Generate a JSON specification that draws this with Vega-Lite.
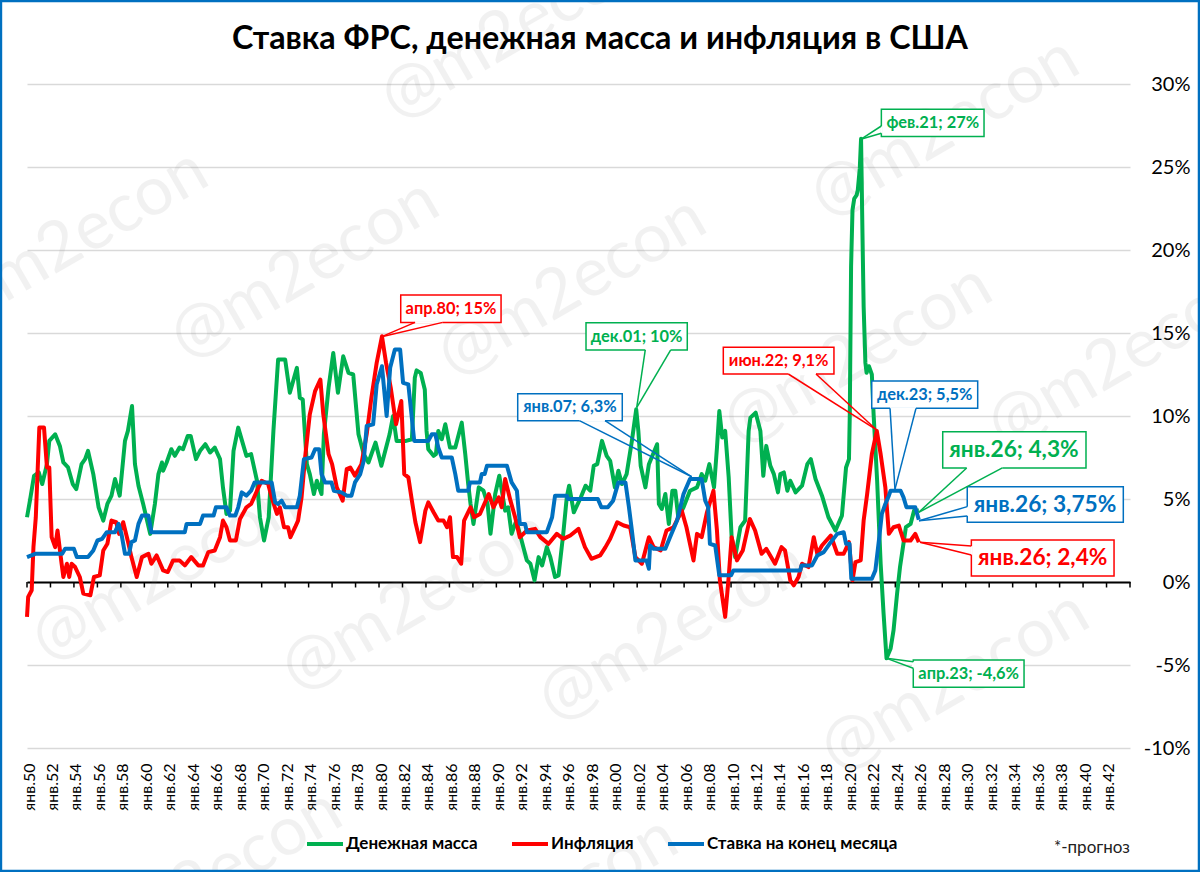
{
  "$schema": "https://vega.github.io/schema/vega-lite/v6.json",
  "autosize": {"type": "none"},
  "padding": {"left": 27, "top": 84, "right": 70, "bottom": 124},
  "width": 1103,
  "height": 664,
  "background": "white",
  "config": {
    "font": "Lato",
    "view": {"stroke": null},
    "axis": {"labelOverlap": false}
  },
  "datasets": {
    "money": [
      {"t":1950.0,"v":3.9},{"t":1950.25,"v":4.9},{"t":1950.6,"v":6.4},{"t":1951.0,"v":6.6},{"t":1951.3,"v":5.9},{"t":1951.7,"v":7.1},{"t":1951.9,"v":8.5},{"t":1952.4,"v":8.9},{"t":1952.8,"v":8.2},{"t":1953.1,"v":7.2},{"t":1953.5,"v":6.9},{"t":1953.9,"v":5.9},{"t":1954.2,"v":5.6},{"t":1954.65,"v":7.1},{"t":1954.95,"v":7.4},{"t":1955.2,"v":7.9},{"t":1955.65,"v":6.5},{"t":1956.1,"v":4.5},{"t":1956.5,"v":3.7},{"t":1956.85,"v":4.7},{"t":1957.2,"v":5.2},{"t":1957.5,"v":6.2},{"t":1957.9,"v":5.2},{"t":1958.35,"v":8.5},{"t":1958.6,"v":9.1},{"t":1958.95,"v":10.6},{"t":1959.2,"v":7.1},{"t":1959.5,"v":5.8},{"t":1959.9,"v":4.7},{"t":1960.5,"v":2.9},{"t":1960.9,"v":4.7},{"t":1961.2,"v":6.5},{"t":1961.5,"v":7.2},{"t":1961.6,"v":6.7},{"t":1961.9,"v":7.2},{"t":1962.3,"v":8.0},{"t":1962.6,"v":7.6},{"t":1963.0,"v":8.1},{"t":1963.3,"v":8.0},{"t":1963.7,"v":8.8},{"t":1963.95,"v":8.8},{"t":1964.4,"v":7.4},{"t":1964.75,"v":7.9},{"t":1965.2,"v":8.3},{"t":1965.6,"v":7.8},{"t":1966.0,"v":8.1},{"t":1966.45,"v":7.4},{"t":1966.7,"v":5.7},{"t":1967.0,"v":4.1},{"t":1967.3,"v":4.3},{"t":1967.6,"v":7.9},{"t":1968.0,"v":9.3},{"t":1968.45,"v":8.2},{"t":1968.7,"v":7.6},{"t":1969.1,"v":7.7},{"t":1969.6,"v":6.1},{"t":1969.85,"v":3.9},{"t":1970.2,"v":2.5},{"t":1970.6,"v":3.9},{"t":1971.0,"v":9.1},{"t":1971.4,"v":13.4},{"t":1972.0,"v":13.4},{"t":1972.4,"v":11.4},{"t":1973.0,"v":12.9},{"t":1973.25,"v":11.1},{"t":1973.5,"v":11.0},{"t":1973.85,"v":7.1},{"t":1974.1,"v":6.5},{"t":1974.45,"v":5.3},{"t":1974.7,"v":6.1},{"t":1975.1,"v":5.3},{"t":1975.3,"v":8.9},{"t":1975.7,"v":11.7},{"t":1976.1,"v":13.8},{"t":1976.5,"v":11.4},{"t":1976.95,"v":13.6},{"t":1977.4,"v":12.6},{"t":1977.8,"v":12.5},{"t":1978.25,"v":8.9},{"t":1978.7,"v":7.7},{"t":1979.1,"v":7.2},{"t":1979.7,"v":8.4},{"t":1980.2,"v":7.0},{"t":1980.9,"v":8.9},{"t":1981.2,"v":10.0},{"t":1981.5,"v":8.5},{"t":1982.3,"v":8.5},{"t":1982.8,"v":8.6},{"t":1983.05,"v":12.3},{"t":1983.2,"v":12.75},{"t":1983.55,"v":12.6},{"t":1983.9,"v":11.6},{"t":1984.05,"v":9.1},{"t":1984.2,"v":8.0},{"t":1984.65,"v":7.6},{"t":1984.85,"v":7.7},{"t":1985.05,"v":9.1},{"t":1985.35,"v":8.6},{"t":1985.65,"v":9.5},{"t":1986.05,"v":8.1},{"t":1986.5,"v":8.1},{"t":1987.05,"v":9.6},{"t":1987.35,"v":7.7},{"t":1987.6,"v":5.9},{"t":1987.8,"v":4.7},{"t":1988.05,"v":3.5},{"t":1988.5,"v":5.7},{"t":1988.9,"v":5.5},{"t":1989.25,"v":4.7},{"t":1989.5,"v":2.9},{"t":1989.9,"v":5.3},{"t":1990.25,"v":6.4},{"t":1990.75,"v":4.3},{"t":1991.0,"v":4.5},{"t":1991.3,"v":2.9},{"t":1991.7,"v":3.7},{"t":1992.6,"v":1.3},{"t":1992.9,"v":1.1},{"t":1993.25,"v":0.1},{"t":1993.6,"v":1.5},{"t":1993.9,"v":1.0},{"t":1994.3,"v":2.1},{"t":1994.6,"v":1.5},{"t":1995.0,"v":0.3},{"t":1995.3,"v":0.4},{"t":1995.7,"v":2.9},{"t":1996.0,"v":5.1},{"t":1996.2,"v":5.8},{"t":1996.6,"v":4.2},{"t":1997.2,"v":5.1},{"t":1997.6,"v":5.8},{"t":1998.0,"v":5.5},{"t":1998.3,"v":7.0},{"t":1998.6,"v":7.1},{"t":1999.0,"v":8.5},{"t":1999.4,"v":7.6},{"t":1999.7,"v":7.3},{"t":2000.1,"v":5.7},{"t":2000.4,"v":6.7},{"t":2000.7,"v":5.9},{"t":2001.1,"v":6.5},{"t":2001.55,"v":8.5},{"t":2001.92,"v":10.4},{"t":2002.1,"v":9.1},{"t":2002.3,"v":7.0},{"t":2002.7,"v":5.7},{"t":2003.0,"v":7.1},{"t":2003.7,"v":8.3},{"t":2003.85,"v":4.7},{"t":2004.1,"v":4.4},{"t":2004.4,"v":5.3},{"t":2004.7,"v":3.5},{"t":2005.0,"v":5.5},{"t":2005.25,"v":5.5},{"t":2005.5,"v":3.9},{"t":2005.95,"v":4.5},{"t":2006.5,"v":5.5},{"t":2007.1,"v":5.7},{"t":2007.5,"v":6.5},{"t":2007.8,"v":6.1},{"t":2008.15,"v":7.1},{"t":2008.55,"v":5.7},{"t":2008.8,"v":8.1},{"t":2009.0,"v":10.3},{"t":2009.25,"v":8.7},{"t":2009.5,"v":9.1},{"t":2009.8,"v":6.3},{"t":2010.05,"v":2.7},{"t":2010.35,"v":1.5},{"t":2010.8,"v":3.3},{"t":2011.2,"v":3.7},{"t":2011.5,"v":9.1},{"t":2011.65,"v":9.9},{"t":2012.1,"v":10.2},{"t":2012.5,"v":9.1},{"t":2012.75,"v":6.4},{"t":2013.0,"v":8.2},{"t":2013.35,"v":7.0},{"t":2013.65,"v":6.5},{"t":2014.0,"v":5.4},{"t":2014.2,"v":6.5},{"t":2014.5,"v":6.6},{"t":2014.8,"v":5.5},{"t":2015.05,"v":6.1},{"t":2015.5,"v":5.4},{"t":2016.05,"v":5.8},{"t":2016.5,"v":7.1},{"t":2016.8,"v":7.4},{"t":2017.2,"v":6.2},{"t":2017.75,"v":5.2},{"t":2018.3,"v":3.9},{"t":2018.9,"v":3.1},{"t":2019.45,"v":4.0},{"t":2019.8,"v":6.9},{"t":2020.05,"v":7.4},{"t":2020.12,"v":10.1},{"t":2020.23,"v":19.0},{"t":2020.35,"v":22.4},{"t":2020.5,"v":23.1},{"t":2020.7,"v":23.3},{"t":2020.8,"v":23.6},{"t":2020.97,"v":24.9},{"t":2021.08,"v":26.7},{"t":2021.2,"v":21.0},{"t":2021.3,"v":16.6},{"t":2021.45,"v":13.2},{"t":2021.55,"v":12.6},{"t":2021.75,"v":13.0},{"t":2022.0,"v":12.5},{"t":2022.15,"v":10.1},{"t":2022.45,"v":6.1},{"t":2022.75,"v":1.1},{"t":2023.0,"v":-1.9},{"t":2023.25,"v":-4.6},{"t":2023.6,"v":-4.0},{"t":2023.85,"v":-2.9},{"t":2024.15,"v":-0.7},{"t":2024.4,"v":0.9},{"t":2024.65,"v":2.1},{"t":2024.9,"v":3.3},{"t":2025.3,"v":3.5},{"t":2025.6,"v":4.3},{"t":2026.0,"v":4.3}
    ],
    "inflation": [
      {"t":1950.0,"v":-2.1},{"t":1950.1,"v":-0.9},{"t":1950.4,"v":-0.5},{"t":1950.55,"v":2.1},{"t":1950.75,"v":3.9},{"t":1951.05,"v":9.3},{"t":1951.45,"v":9.3},{"t":1951.7,"v":6.9},{"t":1951.9,"v":6.9},{"t":1952.1,"v":2.7},{"t":1952.4,"v":2.1},{"t":1952.6,"v":3.1},{"t":1952.95,"v":1.1},{"t":1953.1,"v":0.3},{"t":1953.4,"v":1.1},{"t":1953.6,"v":0.3},{"t":1953.8,"v":1.1},{"t":1954.1,"v":0.9},{"t":1954.5,"v":0.3},{"t":1954.8,"v":-0.7},{"t":1955.4,"v":-0.8},{"t":1955.7,"v":0.3},{"t":1956.2,"v":0.4},{"t":1956.5,"v":1.9},{"t":1956.85,"v":2.3},{"t":1957.2,"v":3.7},{"t":1957.6,"v":3.6},{"t":1957.85,"v":2.9},{"t":1958.2,"v":3.6},{"t":1958.65,"v":2.3},{"t":1958.9,"v":1.5},{"t":1959.35,"v":0.3},{"t":1959.8,"v":1.5},{"t":1960.35,"v":1.7},{"t":1960.6,"v":1.1},{"t":1961.05,"v":1.6},{"t":1961.6,"v":0.7},{"t":1962.0,"v":0.6},{"t":1962.45,"v":1.3},{"t":1963.0,"v":1.3},{"t":1963.45,"v":1.0},{"t":1964.0,"v":1.5},{"t":1964.6,"v":1.0},{"t":1965.0,"v":1.0},{"t":1965.45,"v":1.8},{"t":1966.0,"v":1.9},{"t":1966.45,"v":2.7},{"t":1966.7,"v":3.7},{"t":1967.0,"v":3.3},{"t":1967.3,"v":2.5},{"t":1967.8,"v":2.5},{"t":1968.15,"v":3.8},{"t":1968.7,"v":4.5},{"t":1969.1,"v":4.7},{"t":1969.6,"v":5.5},{"t":1970.0,"v":6.1},{"t":1970.55,"v":5.9},{"t":1970.85,"v":5.1},{"t":1971.3,"v":4.1},{"t":1971.55,"v":4.5},{"t":1971.9,"v":3.3},{"t":1972.25,"v":3.3},{"t":1972.45,"v":2.7},{"t":1972.85,"v":3.3},{"t":1973.1,"v":3.7},{"t":1973.4,"v":5.1},{"t":1973.7,"v":7.5},{"t":1974.1,"v":10.1},{"t":1974.55,"v":11.5},{"t":1975.0,"v":12.2},{"t":1975.25,"v":10.1},{"t":1975.7,"v":7.7},{"t":1976.0,"v":7.1},{"t":1976.4,"v":5.7},{"t":1976.9,"v":4.9},{"t":1977.25,"v":6.8},{"t":1977.55,"v":6.9},{"t":1977.95,"v":6.4},{"t":1978.5,"v":7.1},{"t":1978.95,"v":8.9},{"t":1979.35,"v":11.1},{"t":1979.8,"v":13.2},{"t":1980.25,"v":14.8},{"t":1980.6,"v":13.2},{"t":1981.0,"v":11.7},{"t":1981.45,"v":9.5},{"t":1981.9,"v":10.9},{"t":1982.15,"v":6.5},{"t":1982.5,"v":6.3},{"t":1982.8,"v":4.9},{"t":1983.1,"v":3.6},{"t":1983.5,"v":2.4},{"t":1983.95,"v":4.3},{"t":1984.2,"v":4.8},{"t":1984.65,"v":4.2},{"t":1985.05,"v":3.7},{"t":1985.5,"v":3.7},{"t":1985.8,"v":3.3},{"t":1986.05,"v":3.9},{"t":1986.3,"v":1.5},{"t":1986.65,"v":1.5},{"t":1987.0,"v":1.1},{"t":1987.25,"v":3.7},{"t":1987.8,"v":4.5},{"t":1988.1,"v":3.9},{"t":1988.6,"v":4.1},{"t":1989.35,"v":5.3},{"t":1989.75,"v":4.5},{"t":1990.2,"v":5.1},{"t":1990.45,"v":4.5},{"t":1990.75,"v":6.2},{"t":1991.2,"v":4.9},{"t":1991.6,"v":3.9},{"t":1992.0,"v":2.7},{"t":1992.6,"v":3.1},{"t":1993.3,"v":3.2},{"t":1993.75,"v":2.7},{"t":1994.45,"v":2.3},{"t":1995.15,"v":2.9},{"t":1995.7,"v":2.6},{"t":1996.3,"v":2.8},{"t":1997.0,"v":3.2},{"t":1997.55,"v":2.1},{"t":1998.1,"v":1.4},{"t":1998.85,"v":1.6},{"t":1999.3,"v":2.1},{"t":1999.7,"v":2.6},{"t":2000.3,"v":3.6},{"t":2000.85,"v":3.4},{"t":2001.4,"v":3.3},{"t":2001.85,"v":1.5},{"t":2002.4,"v":1.1},{"t":2003.0,"v":2.7},{"t":2003.4,"v":2.1},{"t":2004.0,"v":1.9},{"t":2004.5,"v":3.1},{"t":2005.1,"v":3.3},{"t":2005.8,"v":4.3},{"t":2006.2,"v":3.3},{"t":2006.8,"v":1.3},{"t":2007.1,"v":2.9},{"t":2007.5,"v":2.7},{"t":2007.95,"v":4.2},{"t":2008.5,"v":5.5},{"t":2008.8,"v":3.1},{"t":2009.05,"v":0.1},{"t":2009.5,"v":-2.1},{"t":2009.8,"v":0.3},{"t":2010.05,"v":2.7},{"t":2010.5,"v":1.3},{"t":2011.0,"v":1.9},{"t":2011.6,"v":3.8},{"t":2012.05,"v":3.1},{"t":2012.6,"v":1.7},{"t":2013.0,"v":2.0},{"t":2013.75,"v":1.1},{"t":2014.3,"v":2.1},{"t":2014.6,"v":1.9},{"t":2015.05,"v":0.1},{"t":2015.35,"v":-0.2},{"t":2015.75,"v":0.3},{"t":2016.05,"v":1.1},{"t":2016.6,"v":0.9},{"t":2017.05,"v":2.7},{"t":2017.35,"v":1.7},{"t":2017.75,"v":2.2},{"t":2018.5,"v":2.8},{"t":2019.05,"v":1.7},{"t":2019.6,"v":1.7},{"t":2020.05,"v":2.4},{"t":2020.35,"v":0.1},{"t":2020.6,"v":1.2},{"t":2021.05,"v":1.3},{"t":2021.3,"v":3.7},{"t":2021.6,"v":5.3},{"t":2022.0,"v":7.7},{"t":2022.42,"v":9.1},{"t":2022.75,"v":7.7},{"t":2023.15,"v":5.7},{"t":2023.45,"v":2.9},{"t":2023.85,"v":3.3},{"t":2024.3,"v":3.4},{"t":2024.7,"v":2.5},{"t":2025.3,"v":2.5},{"t":2025.7,"v":2.9},{"t":2026.0,"v":2.4}
    ],
    "rate": [
      {"t":1950.0,"v":1.5},{"t":1950.7,"v":1.7},{"t":1953.0,"v":1.7},{"t":1953.25,"v":2.0},{"t":1954.0,"v":2.0},{"t":1954.25,"v":1.5},{"t":1955.2,"v":1.5},{"t":1955.65,"v":1.9},{"t":1956.0,"v":2.5},{"t":1956.4,"v":2.6},{"t":1956.8,"v":3.0},{"t":1957.5,"v":3.0},{"t":1957.8,"v":3.5},{"t":1958.05,"v":2.9},{"t":1958.35,"v":1.7},{"t":1958.7,"v":1.7},{"t":1958.9,"v":2.4},{"t":1959.2,"v":2.5},{"t":1959.5,"v":3.5},{"t":1959.8,"v":4.0},{"t":1960.35,"v":4.0},{"t":1960.6,"v":3.0},{"t":1963.45,"v":3.0},{"t":1963.6,"v":3.5},{"t":1964.75,"v":3.5},{"t":1965.0,"v":4.0},{"t":1965.9,"v":4.0},{"t":1966.1,"v":4.5},{"t":1967.0,"v":4.5},{"t":1967.3,"v":4.0},{"t":1967.75,"v":4.0},{"t":1968.0,"v":4.5},{"t":1968.3,"v":5.4},{"t":1968.7,"v":5.2},{"t":1969.1,"v":5.5},{"t":1969.4,"v":6.0},{"t":1970.85,"v":6.0},{"t":1971.15,"v":4.8},{"t":1971.4,"v":4.7},{"t":1971.7,"v":4.9},{"t":1972.0,"v":4.5},{"t":1973.0,"v":4.5},{"t":1973.25,"v":5.2},{"t":1973.6,"v":7.4},{"t":1974.25,"v":7.5},{"t":1974.55,"v":8.0},{"t":1974.9,"v":8.0},{"t":1975.1,"v":6.5},{"t":1975.4,"v":6.0},{"t":1975.95,"v":6.0},{"t":1976.15,"v":5.5},{"t":1976.8,"v":5.4},{"t":1977.25,"v":5.2},{"t":1977.65,"v":5.2},{"t":1977.95,"v":6.0},{"t":1978.4,"v":6.5},{"t":1978.7,"v":7.3},{"t":1978.95,"v":9.4},{"t":1979.5,"v":9.5},{"t":1979.8,"v":11.9},{"t":1980.25,"v":13.0},{"t":1980.65,"v":10.0},{"t":1980.95,"v":12.9},{"t":1981.35,"v":14.0},{"t":1981.8,"v":14.0},{"t":1982.05,"v":12.0},{"t":1982.5,"v":11.9},{"t":1983.0,"v":8.5},{"t":1984.2,"v":8.5},{"t":1984.5,"v":8.9},{"t":1984.8,"v":8.9},{"t":1985.05,"v":8.1},{"t":1985.35,"v":7.5},{"t":1986.2,"v":7.5},{"t":1986.5,"v":6.5},{"t":1986.75,"v":5.5},{"t":1987.6,"v":5.5},{"t":1987.75,"v":6.0},{"t":1988.6,"v":6.0},{"t":1988.75,"v":6.5},{"t":1989.0,"v":6.5},{"t":1989.2,"v":7.0},{"t":1990.9,"v":7.0},{"t":1991.3,"v":6.0},{"t":1991.75,"v":5.5},{"t":1992.0,"v":3.5},{"t":1992.45,"v":3.5},{"t":1992.6,"v":3.0},{"t":1994.3,"v":3.0},{"t":1994.75,"v":3.9},{"t":1995.0,"v":5.2},{"t":1996.0,"v":5.2},{"t":1996.1,"v":5.0},{"t":1998.65,"v":5.0},{"t":1998.95,"v":4.5},{"t":1999.5,"v":4.5},{"t":1999.95,"v":4.9},{"t":2000.4,"v":6.0},{"t":2001.0,"v":6.0},{"t":2001.3,"v":4.5},{"t":2001.55,"v":3.1},{"t":2001.85,"v":1.3},{"t":2002.8,"v":1.3},{"t":2003.0,"v":0.8},{"t":2003.1,"v":2.2},{"t":2003.4,"v":2.0},{"t":2004.4,"v":2.0},{"t":2004.8,"v":2.7},{"t":2005.4,"v":3.7},{"t":2005.95,"v":5.3},{"t":2006.5,"v":6.2},{"t":2007.5,"v":6.2},{"t":2007.8,"v":4.9},{"t":2008.05,"v":4.5},{"t":2008.2,"v":2.3},{"t":2008.65,"v":2.2},{"t":2009.0,"v":0.4},{"t":2010.0,"v":0.4},{"t":2010.2,"v":0.7},{"t":2015.9,"v":0.7},{"t":2016.0,"v":1.0},{"t":2016.9,"v":1.0},{"t":2017.35,"v":1.6},{"t":2017.9,"v":1.8},{"t":2018.5,"v":2.4},{"t":2019.05,"v":2.9},{"t":2019.6,"v":3.0},{"t":2019.8,"v":2.3},{"t":2020.1,"v":2.3},{"t":2020.25,"v":0.2},{"t":2022.0,"v":0.2},{"t":2022.3,"v":0.7},{"t":2022.6,"v":2.5},{"t":2022.85,"v":4.1},{"t":2023.15,"v":4.7},{"t":2023.45,"v":5.2},{"t":2023.6,"v":5.5},{"t":2024.45,"v":5.5},{"t":2024.7,"v":5.1},{"t":2024.95,"v":4.5},{"t":2025.7,"v":4.5},{"t":2026.0,"v":3.75}
    ],
    "callouts": [
      {"label":"апр.80; 15%","series":"Инфляция","kind":"extreme","t1":1981.85,"t2":1990.4,"v1":17.29,"v2":15.64,"tt":1980.23,"tv":14.78,"b1t":1983.07,"b1v":15.64,"b2t":1985.43,"b2v":15.64,"lt":1986.13,"lv":16.45},
      {"label":"дек.01; 10%","series":"Денежная масса","kind":"extreme","t1":1997.64,"t2":2006.27,"v1":15.62,"v2":13.98,"tt":2001.96,"tv":10.5,"b1t":2002.69,"b1v":13.98,"b2t":2004.86,"b2v":13.98,"lt":2001.96,"lv":14.76},
      {"label":"янв.07; 6,3%","series":"Ставка на конец месяца","kind":"extreme","t1":1991.82,"t2":2000.73,"v1":11.34,"v2":9.72,"tt":2006.65,"tv":6.34,"b1t":1997.07,"b1v":9.72,"b2t":1999.26,"b2v":9.72,"lt":1996.28,"lv":10.54},
      {"label":"июн.22; 9,1%","series":"Инфляция","kind":"extreme","t1":2009.34,"t2":2018.77,"v1":14.14,"v2":12.53,"tt":2022.41,"tv":9.16,"b1t":2014.88,"b1v":12.53,"b2t":2017.24,"b2v":12.53,"lt":2014.06,"lv":13.31},
      {"label":"дек.23; 5,5%","series":"Ставка на конец месяца","kind":"extreme","t1":2021.99,"t2":2031.02,"v1":12.11,"v2":10.46,"tt":2023.97,"tv":5.58,"b1t":2023.55,"b1v":10.46,"b2t":2025.76,"b2v":10.46,"lt":2026.5,"lv":11.27},
      {"label":"фев.21; 27%","series":"Денежная масса","kind":"extreme","t1":2022.81,"t2":2031.56,"v1":28.48,"v2":26.83,"tt":2021.05,"tv":26.67,"b1t":2022.81,"b1v":27.47,"b2t":2022.81,"b2v":27.03,"lt":2027.19,"lv":27.65},
      {"label":"апр.23; -4,6%","series":"Денежная масса","kind":"extreme","t1":2025.53,"t2":2034.97,"v1":-4.7,"v2":-6.34,"tt":2023.26,"tv":-4.6,"b1t":2025.53,"b1v":-4.8,"b2t":2025.53,"b2v":-5.2,"lt":2030.25,"lv":-5.54},
      {"label":"янв.26; 4,3%","series":"Денежная масса","kind":"latest","t1":2028.04,"t2":2040.25,"v1":9.05,"v2":6.87,"tt":2026.0,"tv":4.2,"b1t":2030.08,"b1v":6.87,"b2t":2033.12,"b2v":6.87,"lt":2034.11,"lv":7.95},
      {"label":"янв.26; 3,75%","series":"Ставка на конец месяца","kind":"latest","t1":2030.13,"t2":2043.43,"v1":5.74,"v2":3.6,"tt":2026.02,"tv":3.69,"b1t":2030.13,"b1v":4.54,"b2t":2030.13,"b2v":3.98,"lt":2036.76,"lv":4.64},
      {"label":"янв.26; 2,4%","series":"Инфляция","kind":"latest","t1":2030.48,"t2":2042.64,"v1":2.53,"v2":0.36,"tt":2026.1,"tv":2.39,"b1t":2030.48,"b1v":2.17,"b2t":2030.48,"b2v":1.63,"lt":2036.56,"lv":1.45}
    ],
    "watermarks": [
      {"t":1954.0,"v":20.6,"text":"@m2econ"},
      {"t":1973.69,"v":18.8,"text":"@m2econ"},
      {"t":1991.59,"v":33.25,"text":"@m2econ"},
      {"t":1996.45,"v":17.77,"text":"@m2econ"},
      {"t":2028.23,"v":27.35,"text":"@m2econ"},
      {"t":2020.82,"v":13.67,"text":"@m2econ"},
      {"t":2043.32,"v":13.49,"text":"@m2econ"},
      {"t":1961.85,"v":0.6,"text":"@m2econ"},
      {"t":1983.15,"v":-1.2,"text":"@m2econ"},
      {"t":2005.05,"v":-3.01,"text":"@m2econ"},
      {"t":2029.09,"v":-6.02,"text":"@m2econ"},
      {"t":1965.43,"v":-17.95,"text":"@m2econ"},
      {"t":1994.06,"v":-19.58,"text":"@m2econ"}
    ],
    "ticks": [
      {"year":1950},{"year":1952},{"year":1954},{"year":1956},{"year":1958},{"year":1960},{"year":1962},{"year":1964},{"year":1966},{"year":1968},{"year":1970},{"year":1972},{"year":1974},{"year":1976},{"year":1978},{"year":1980},{"year":1982},{"year":1984},{"year":1986},{"year":1988},{"year":1990},{"year":1992},{"year":1994},{"year":1996},{"year":1998},{"year":2000},{"year":2002},{"year":2004},{"year":2006},{"year":2008},{"year":2010},{"year":2012},{"year":2014},{"year":2016},{"year":2018},{"year":2020},{"year":2022},{"year":2024},{"year":2026},{"year":2028},{"year":2030},{"year":2032},{"year":2034},{"year":2036},{"year":2038},{"year":2040},{"year":2042},{"year":2044}
    ]
  },
  "data": {"name": "money"},
  "layer": [
    {
      "data": {"name": "watermarks"},
      "mark": {"type": "text", "fontSize": 68, "angle": -30, "color": "#7f7f7f", "opacity": 0.1, "align": "center", "baseline": "middle", "font": "Lato"},
      "encoding": {
        "x": {"field": "t", "type": "quantitative", "scale": {"domain": [1950, 2044], "nice": false, "zero": false},
          "axis": {"orient": "bottom", "offset": -166, "tickCount": 48, "values": [1950,1952,1954,1956,1958,1960,1962,1964,1966,1968,1970,1972,1974,1976,1978,1980,1982,1984,1986,1988,1990,1992,1994,1996,1998,2000,2002,2004,2006,2008,2010,2012,2014,2016,2018,2020,2022,2024,2026,2028,2030,2032,2034,2036,2038,2040,2042,2044],
            "labelExpr": "datum.value < 2044 ? 'янв.' + slice(toString(datum.value), 2) : ''", "title": null, "grid": false, "ticks": false, "labelAngle": -90, "labelAlign": "right", "labelBaseline": "middle", "labelPadding": 181, "labelOffset": 2, "labelOverlap": false, "labelBound": false, "labelFlush": false, "labelFontSize": 16, "labelColor": "black", "labelFont": "Lato", "domainColor": "black", "domainWidth": 2}},
        "y": {"field": "v", "type": "quantitative", "scale": {"domain": [-10, 30], "nice": false, "zero": false},
          "axis": {"orient": "right", "values": [-10,-5,0,5,10,15,20,25,30], "labelExpr": "datum.value + '%'", "title": null, "grid": true, "gridColor": "#d9d9d9", "gridWidth": 1.5, "domain": false, "ticks": false, "labelPadding": 60, "labelAlign": "right", "labelBaseline": "middle", "labelFontSize": 20, "labelColor": "black", "labelFont": "Lato", "labelOverlap": false, "labelBound": false}},
        "text": {"field": "text"}
      }
    },
    {
      "data": {"name": "ticks"},
      "mark": {"type": "rule", "color": "black", "strokeWidth": 1.5},
      "encoding": {
        "x": {"field": "year", "type": "quantitative"},
        "y": {"datum": 0, "type": "quantitative"},
        "y2": {"datum": -0.33}
      }
    },
    {
      "data": {"name": "money"},
      "mark": {"type": "line", "strokeWidth": 4, "strokeJoin": "round"},
      "encoding": {
        "x": {"field": "t", "type": "quantitative"},
        "y": {"field": "v", "type": "quantitative"},
        "color": {"datum": "Денежная масса", "type": "nominal",
          "scale": {"domain": ["Денежная масса", "Инфляция", "Ставка на конец месяца"], "range": ["#00b050", "#ff0000", "#0070c0"]},
          "legend": {"orient": "none", "legendX": 278, "legendY": 740, "direction": "horizontal", "columns": 3, "title": null, "symbolType": "stroke", "symbolSize": 1296, "symbolStrokeWidth": 4, "labelFontSize": 17, "labelFontWeight": "bold", "labelColor": "black", "labelFont": "Lato", "labelOffset": 1, "columnPadding": 26, "labelLimit": 260}}
      }
    },
    {
      "data": {"name": "inflation"},
      "mark": {"type": "line", "strokeWidth": 4, "strokeJoin": "round"},
      "encoding": {
        "x": {"field": "t", "type": "quantitative"},
        "y": {"field": "v", "type": "quantitative"},
        "color": {"datum": "Инфляция", "type": "nominal"}
      }
    },
    {
      "data": {"name": "rate"},
      "mark": {"type": "line", "strokeWidth": 4, "strokeJoin": "round"},
      "encoding": {
        "x": {"field": "t", "type": "quantitative"},
        "y": {"field": "v", "type": "quantitative"},
        "color": {"datum": "Ставка на конец месяца", "type": "nominal"}
      }
    },
    {
      "data": {"name": "callouts"},
      "mark": {"type": "rect", "filled": false, "strokeWidth": 1.5, "fill": "white", "fillOpacity": 1},
      "encoding": {
        "x": {"field": "t1", "type": "quantitative"},
        "x2": {"field": "t2"},
        "y": {"field": "v1", "type": "quantitative"},
        "y2": {"field": "v2"},
        "stroke": {"field": "series", "type": "nominal", "scale": {"domain": ["Денежная масса", "Инфляция", "Ставка на конец месяца"], "range": ["#00b050", "#ff0000", "#0070c0"]}, "legend": null}
      }
    },
    {
      "data": {"name": "callouts"},
      "mark": {"type": "rule", "strokeWidth": 2.5, "color": "white"},
      "encoding": {
        "x": {"field": "b1t", "type": "quantitative"},
        "x2": {"field": "b2t"},
        "y": {"field": "b1v", "type": "quantitative"},
        "y2": {"field": "b2v"}
      }
    },
    {
      "data": {"name": "callouts"},
      "mark": {"type": "rule", "strokeWidth": 1.5},
      "encoding": {
        "x": {"field": "tt", "type": "quantitative"},
        "x2": {"field": "b1t"},
        "y": {"field": "tv", "type": "quantitative"},
        "y2": {"field": "b1v"},
        "color": {"field": "series", "type": "nominal", "legend": null}
      }
    },
    {
      "data": {"name": "callouts"},
      "mark": {"type": "rule", "strokeWidth": 1.5},
      "encoding": {
        "x": {"field": "tt", "type": "quantitative"},
        "x2": {"field": "b2t"},
        "y": {"field": "tv", "type": "quantitative"},
        "y2": {"field": "b2v"},
        "color": {"field": "series", "type": "nominal", "legend": null}
      }
    },
    {
      "data": {"name": "callouts"},
      "mark": {"type": "text", "fontWeight": "bold", "align": "center", "baseline": "middle", "font": "Lato"},
      "encoding": {
        "x": {"field": "lt", "type": "quantitative"},
        "y": {"field": "lv", "type": "quantitative"},
        "text": {"field": "label"},
        "color": {"field": "series", "type": "nominal", "legend": null},
        "size": {"field": "kind", "type": "nominal", "scale": {"domain": ["extreme", "latest"], "range": [16.4, 22.7]}, "legend": null}
      }
    },
    {
      "data": {"values": [{"note": "*-прогноз", "t": 2040.76, "v": -16.0}]},
      "mark": {"type": "text", "fontSize": 17, "color": "#222222", "align": "center", "baseline": "middle", "font": "Lato"},
      "encoding": {
        "x": {"field": "t", "type": "quantitative"},
        "y": {"field": "v", "type": "quantitative"},
        "text": {"field": "note"}
      }
    },
    {
      "data": {"values": [{"title": "Ставка ФРС, денежная масса и инфляция в США", "t": 1998.83, "v": 32.7}]},
      "mark": {"type": "text", "fontSize": 32.3, "fontWeight": "bold", "color": "black", "align": "center", "baseline": "middle", "font": "Lato"},
      "encoding": {
        "x": {"field": "t", "type": "quantitative"},
        "y": {"field": "v", "type": "quantitative"},
        "text": {"field": "title"}
      }
    },
    {
      "data": {"values": [{"left": 1947.78, "right": 2049.88, "top": 35, "bottom": -17.41}]},
      "mark": {"type": "rect", "filled": false, "stroke": "#0070c0", "strokeWidth": 2.5, "fill": null},
      "encoding": {
        "x": {"field": "left", "type": "quantitative"},
        "x2": {"field": "right"},
        "y": {"field": "top", "type": "quantitative"},
        "y2": {"field": "bottom"}
      }
    }
  ]
}
